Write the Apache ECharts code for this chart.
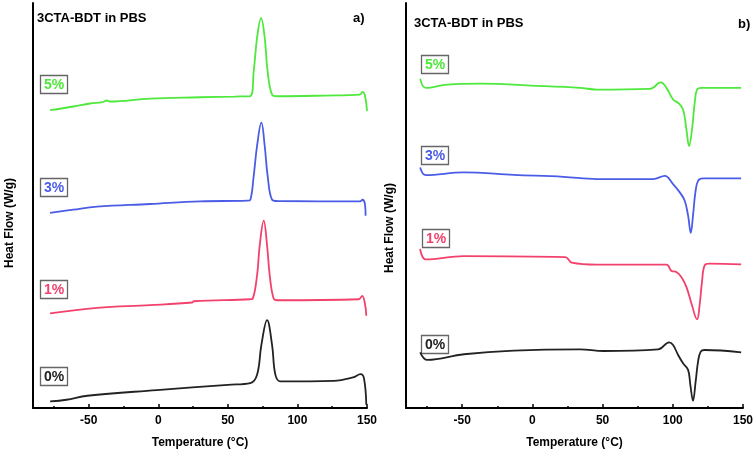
<!DOCTYPE html>
<html>
<head>
<meta charset="utf-8">
<script src="https://cdn.jsdelivr.net/npm/echarts@6/dist/echarts.min.js"></script>
<style>html,body{margin:0;padding:0;background:#fff;}#c{width:756px;height:454px;}</style>
</head>
<body>
<div id="c"></div>
<script>
// Temperature ticks (°C)
var tickLabels = [-50, 0, 50, 100, 150];
var minorTicks = [-75, -25, 25, 75, 125];
var sampleNames = ['5%', '3%', '1%', '0%'];
var sampleColors = ['#4fe83c', '#4b5ce6', '#f2426c', '#222222'];

// Panel a) — heating curves [T (°C), heat flow (a.u., offset)]
var a5 = [[-77.7,299.3],[-61,303],[-49,306],[-40,307.5],[-37,309],[-35,308],[-6,311],[30,312.3],[55,313],[66.2,313.5],[68.6,338.3],[71,372],[73.9,391.7],[76.5,372],[78.6,338.3],[81.8,315],[85.6,313.3],[120,314],[145,315],[146.8,317.7],[148.5,314],[150,298.3]];
var a3 = [[-77.7,196],[-61,199.3],[-44,202.3],[-6,205],[30,207.7],[64,208.3],[66.2,209.3],[68.6,233.3],[71,263.3],[74.1,286.7],[76.5,263.3],[78.6,233.3],[81.8,209.3],[85.6,208],[145,207.7],[146.8,209.3],[148.5,205],[149,193.3]];
var a1 = [[-77.7,95],[-44,100.7],[-6,103.3],[24.5,106],[25.5,107.3],[66,109.3],[67.9,110],[71,133.3],[72.9,163.3],[75.8,188.3],[78.2,163.3],[80.1,133.3],[82.9,110],[85.6,108.3],[144,109.3],[146.5,112.7],[148.5,105],[149.5,92.7]];
var a0 = [[-77.7,6.7],[-66,8.3],[-51,12.3],[-1,18],[50,23.3],[66.2,25],[71,33.3],[74.1,63.3],[78.2,88.3],[81.8,63.3],[84.2,33.3],[87.8,26.7],[126,27.3],[140,30.7],[145.3,34],[147.8,30],[149.5,3.3]];

// Panel b) — cooling curves
var b5 = [[-79.9,331],[-75.9,321.7],[-60.5,325],[-36.9,326],[-1.4,324],[34,321.7],[45.9,320],[83.7,320.7],[91.5,327.3],[95.5,321.7],[100.2,310],[103.8,306.7],[107.3,300],[109.7,280],[111.6,263.3],[113.7,280],[115.6,306.7],[117.3,320],[120.4,321.7],[148.7,321.7]];
var b3 = [[-79.9,241.7],[-75.9,234],[-48.7,236.7],[-13.2,234.3],[22.2,232.3],[45.9,230],[86,230],[94.3,233.3],[100.2,225],[105,216.7],[108.5,208.3],[110.9,193.3],[112.8,176],[114.4,193.3],[116.1,216.7],[118,228.3],[121.5,230.7],[148.7,230.7]];
var b1 = [[-79.9,160],[-75.9,149.3],[-48.7,152.7],[23.4,151.7],[28.1,146],[45.9,144],[95.5,144],[99.1,137.7],[102.6,136.7],[106.1,131.7],[109.7,121.7],[113.3,105],[117.3,89],[119.1,103.3],[120.8,126.7],[122.7,143.3],[126.2,145],[148.7,144.3]];
var b0 = [[-79.9,56],[-74.7,48.3],[-48.7,54],[-13.2,57.7],[34,59],[50.6,57.3],[89.6,59],[97.4,66],[100.2,63.3],[103.8,53.3],[107.3,45],[110.9,38.3],[112.5,23.3],[114.4,7.3],[116.3,26.7],[118,46.7],[119.9,56.7],[122.7,58.3],[148.7,56]];

var FONT = 'Liberation Sans, Arial, sans-serif';
var grids = [
  {left: 33, top: 3, width: 334, bottom: 44},
  {left: 406, top: 3, width: 338, bottom: 44}
];

function xMain(gi) {
  return {
    type: 'value', gridIndex: gi, min: -90, max: 150,
    axisLine: {show: true, onZero: false, lineStyle: {color: '#000', width: 2}},
    axisTick: {show: true, inside: true, length: 4, customValues: tickLabels, lineStyle: {color: '#000', width: 1.5}},
    axisLabel: {customValues: tickLabels, color: '#000', fontFamily: FONT, fontWeight: 'bold', fontSize: 12, margin: 7},
    splitLine: {show: false},
    name: 'Temperature (°C)', nameLocation: 'middle', nameGap: 29,
    nameTextStyle: {color: '#000', fontFamily: FONT, fontWeight: 'bold', fontSize: 12}
  };
}
function xMinor(gi) {
  return {
    type: 'value', gridIndex: gi, min: -90, max: 150, position: 'bottom',
    axisLine: {show: false},
    axisTick: {show: true, inside: true, length: 2, customValues: minorTicks, lineStyle: {color: '#000', width: 1.5}},
    axisLabel: {show: false}, splitLine: {show: false}
  };
}
function yAx(gi) {
  return {
    type: 'value', gridIndex: gi, min: 0, max: 407,
    axisLine: {show: true, onZero: false, lineStyle: {color: '#000', width: 2}},
    axisTick: {show: false}, axisLabel: {show: false}, splitLine: {show: false}
  };
}

var seriesData = [[a5, a3, a1, a0], [b5, b3, b1, b0]];
var series = [];
seriesData.forEach(function (set, gi) {
  set.forEach(function (d, i) {
    series.push({
      type: 'line', xAxisIndex: gi * 2, yAxisIndex: gi, data: d,
      showSymbol: false, smooth: 0.4,
      lineStyle: {color: sampleColors[i], width: 1.8}, silent: true
    });
  });
});

// label boxes
var boxesA = [[40, 75], [40, 178], [40, 280], [40, 367]];
var boxesB = [[421, 55], [421, 146], [422, 229], [421, 335]];
var graphics = [];
function addBox(x, y, i) {
  graphics.push({type: 'rect', shape: {x: x + 0.5, y: y + 0.5, width: 27, height: 18},
    style: {fill: '#fff', stroke: '#666', lineWidth: 1.3}});
  graphics.push({type: 'text', x: x + 14, y: y + 10,
    style: {text: sampleNames[i], fill: sampleColors[i], font: 'bold 14px ' + FONT, textAlign: 'center', textVerticalAlign: 'middle'}});
}
boxesA.forEach(function (p, i) { addBox(p[0], p[1], i); });
boxesB.forEach(function (p, i) { addBox(p[0], p[1], i); });
graphics.push({type: 'text', x: 37, y: 18, style: {text: '3CTA-BDT in PBS', fill: '#000', font: 'bold 13px ' + FONT, textVerticalAlign: 'middle'}});
graphics.push({type: 'text', x: 414, y: 23, style: {text: '3CTA-BDT in PBS', fill: '#000', font: 'bold 13px ' + FONT, textVerticalAlign: 'middle'}});
graphics.push({type: 'text', x: 353, y: 18, style: {text: 'a)', fill: '#000', font: 'bold 13px ' + FONT, textVerticalAlign: 'middle'}});
graphics.push({type: 'text', x: 738, y: 24, style: {text: 'b)', fill: '#000', font: 'bold 13px ' + FONT, textVerticalAlign: 'middle'}});
graphics.push({type: 'text', x: 10, y: 223, rotation: Math.PI / 2, style: {text: 'Heat Flow (W/g)', fill: '#000', font: 'bold 12px ' + FONT, textAlign: 'center', textVerticalAlign: 'middle'}});
graphics.push({type: 'text', x: 390, y: 228, rotation: Math.PI / 2, style: {text: 'Heat Flow (W/g)', fill: '#000', font: 'bold 12px ' + FONT, textAlign: 'center', textVerticalAlign: 'middle'}});

var chart = echarts.init(document.getElementById('c'), null, {renderer: 'canvas'});
chart.setOption({
  animation: false,
  backgroundColor: '#fff',
  grid: grids,
  xAxis: [xMain(0), xMinor(0), xMain(1), xMinor(1)],
  yAxis: [yAx(0), yAx(1)],
  series: series,
  graphic: graphics
});
</script>
</body>
</html>
